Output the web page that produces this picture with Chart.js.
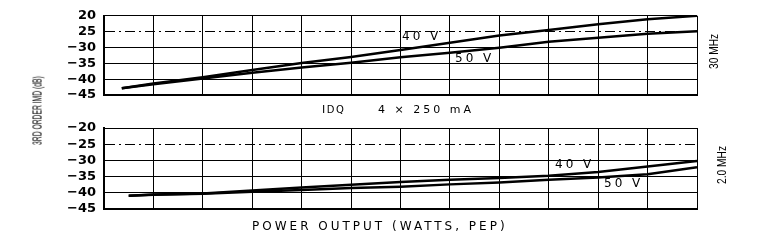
<!DOCTYPE html>
<html>
<head>
<meta charset="utf-8">
<script src="https://cdn.jsdelivr.net/npm/chart.js@4"></script>
<style>
  body { margin: 0; background: #fff; }
  #wrap { position: relative; width: 779px; height: 250px; overflow: hidden; }
  #wrap canvas { position: absolute; left: 0; top: 0; }
  .note { position: absolute; color: #000; white-space: nowrap; font-family: "DejaVu Sans", sans-serif; }
  .vlab { font-family: "Liberation Sans Narrow", "Liberation Sans", sans-serif; transform-origin: center center; }
</style>
</head>
<body>
<div id="wrap">
  <canvas id="top" width="779" height="250"></canvas>
  <canvas id="bottom" width="779" height="250"></canvas>

  <div class="note vlab" style="left:-33px; top:103px; width:140px; text-align:center; font-size:13px; transform: rotate(-90deg) scaleX(0.52);">3RD ORDER IMD (dB)</div>
  <div class="note vlab" style="left:694px; top:45px; width:40px; text-align:center; font-size:12px; transform: rotate(-90deg) scaleX(0.85);">30 MHz</div>
  <div class="note vlab" style="left:702px; top:160px; width:40px; text-align:center; font-size:12px; transform: rotate(-90deg) scaleX(0.85);">2.0 MHz</div>

  <div class="note" style="left:322px; top:103px; font-size:11px; letter-spacing:1.5px;">I<span style="font-size:10px">DQ</span></div>
  <div class="note" style="left:378px; top:103px; font-size:11px; letter-spacing:3px;">4 × 250 mA</div>

  <div class="note" style="left:402px; top:29px; font-size:12px; letter-spacing:3px;">40 V</div>
  <div class="note" style="left:455px; top:51px; font-size:12px; letter-spacing:3px;">50 V</div>
  <div class="note" style="left:555px; top:157px; font-size:12px; letter-spacing:3px;">40 V</div>
  <div class="note" style="left:604px; top:176px; font-size:12px; letter-spacing:3px;">50 V</div>

  <div class="note" style="left:252px; top:219px; font-size:12px; letter-spacing:3px;">POWER OUTPUT (WATTS, PEP)</div>
</div>

<script>
// power output in grid steps (axis carries no numbers)
const powerTop = [0.36, 1, 2, 3, 4, 5, 6, 7, 8, 9, 10, 11, 12];
const powerBottom = [0.5, 1, 2, 3, 4, 5, 6, 7, 8, 9, 10, 11, 12];

// 30 MHz panel, dB
const imd30_40V = [-42.9, -41.4, -39.4, -37.1, -34.9, -33.0, -30.8, -28.5, -26.2, -24.5, -22.7, -21.1, -20.0];
const imd30_50V = [-42.9, -41.6, -39.8, -38.0, -36.3, -34.8, -33.1, -31.7, -30.1, -28.2, -26.9, -25.7, -24.9];

// 2.0 MHz panel, dB
const imd2_40V = [-40.9, -40.5, -40.2, -39.3, -38.4, -37.5, -36.7, -36.0, -35.4, -34.7, -33.6, -31.9, -30.2];
const imd2_50V = [-40.9, -40.6, -40.3, -39.7, -39.1, -38.5, -38.1, -37.4, -36.8, -36.0, -35.3, -34.3, -32.1];

// tick labels as printed (top panel lost its minus signs on -20 / -25)
const topTickText = {'-20': '20', '-25': '25', '-30': '\u221230', '-35': '\u221235', '-40': '\u221240', '-45': '\u221245'};
const bottomTickText = {'-20': '\u221220', '-25': '\u221225', '-30': '\u221230', '-35': '\u221235', '-40': '\u221240', '-45': '\u221245'};

function points(xs, ys) {
	return xs.map((x, i) => ({x: x, y: ys[i]}));
}

function line(label, data) {
	return {
		label: label,
		data: data,
		borderColor: '#000',
		borderWidth: 2.5,
		pointRadius: 0,
		tension: 0,
		fill: false
	};
}

function panelConfig(datasets, tickText, padTop, padBottom) {
	return {
		type: 'line',
		data: {datasets: datasets},
		options: {
			responsive: false,
			animation: false,
			devicePixelRatio: 1,
			layout: {padding: {left: 0, right: 82, top: padTop, bottom: padBottom}},
			plugins: {legend: {display: false}, tooltip: {enabled: false}},
			scales: {
				x: {
					type: 'linear',
					min: 0,
					max: 12,
					ticks: {display: false, stepSize: 1, autoSkip: false},
					grid: {color: '#000', lineWidth: 1, drawTicks: false},
					border: {color: '#000', width: 2},
					afterFit: s => { s.height = 0; }
				},
				y: {
					min: -45,
					max: -20,
					ticks: {
						stepSize: 5,
						autoSkip: false,
						color: '#000',
						padding: 8,
						font: {family: 'DejaVu Sans', size: 13, weight: 'bold'},
						callback: v => tickText[String(v)]
					},
					grid: {color: '#000', lineWidth: 1, drawTicks: false},
					border: {
						color: '#000',
						width: 2,
						dash: ctx => (ctx.tick && ctx.tick.value === -25) ? [10, 4, 2, 4] : []
					},
					afterFit: s => { s.width = 104; }
				}
			}
		}
	};
}

new Chart(document.getElementById('top'), panelConfig([
	line('40 V', points(powerTop, imd30_40V)),
	line('50 V', points(powerTop, imd30_50V))
], topTickText, 13, 155));

new Chart(document.getElementById('bottom'), panelConfig([
	line('40 V', points(powerBottom, imd2_40V)),
	line('50 V', points(powerBottom, imd2_50V))
], bottomTickText, 128, 41));
</script>
</body>
</html>
